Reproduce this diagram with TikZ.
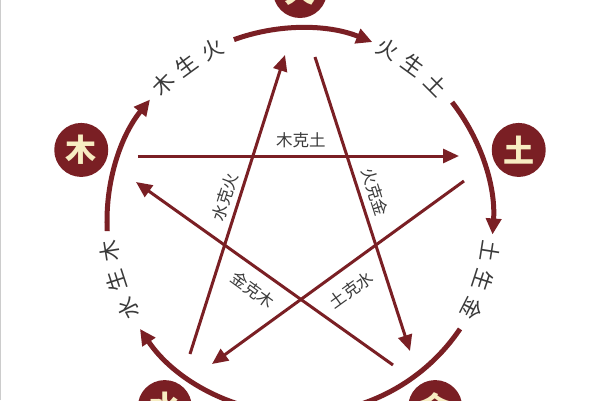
\documentclass[tikz,border=0pt]{standalone}
\usepackage{fontspec}
\newfontfamily\cjk{Noto Sans CJK SC}
\usetikzlibrary{arrows.meta}
\definecolor{maroon}{HTML}{7A1F24}
\definecolor{cream}{HTML}{F7EDC2}
\definecolor{txt}{HTML}{3A3A3A}
\begin{document}
\begin{tikzpicture}[x=1pt,y=1pt,
  elem/.style={circle,fill=maroon,minimum size=54pt,inner sep=0pt,text=cream,font=\cjk\bfseries\fontsize{31}{31}\selectfont},
  ring/.style={maroon,line width=5pt},
  ringarrow/.style={ring,-{Triangle[length=16pt,width=15pt]}},
  ke/.style={maroon,line width=3pt,-{Triangle[length=16pt,width=14pt]}},
  kelabel/.style={text=txt,font=\cjk\fontsize{16.5}{16.5}\selectfont,inner sep=0pt},
  rlabel/.style={text=txt,font=\cjk\fontsize{21.5}{21.5}\selectfont,inner sep=0pt}]
\useasboundingbox (-300,-179) rectangle (300,221);
\clip (-300,-179) rectangle (300,221);
\fill[white] (-300,-179) rectangle (300,221);
\draw[gray!40,line width=1.2pt] (-299.4,-179) -- (-299.4,221);
% elements
\node[elem] (huo) at (90:230) {火};
\node[elem] (mu)  at (162:230) {木};
\node[elem] (tu)  at (18:230) {土};
\node[elem] (jin) at (-54:230) {金};
\node[elem] (shui) at (-126:230) {水};
% ring arcs (sheng)
\draw[ringarrow] (183:193) arc[start angle=183,end angle=141,radius=193];
\draw[ringarrow] (110:193) arc[start angle=110,end angle=68,radius=193];
\draw[ringarrow] (38:193) arc[start angle=38,end angle=-4,radius=193];
\draw[ringarrow] (-34:193) arc[start angle=-34,end angle=-146,radius=193];
% ring labels
\foreach \a/\c [count=\i] in {135/木,126/生,117/火,63/火,54/生,45/土,-9/土,-18/生,-27/金,207/水,198/生,189/木}
  \node[rlabel,rotate=\a-90] (rl\i) at (\a:193) {\c};
% ke lines
\coordinate (s1) at (-110,-133); \coordinate (e1) at (-15,166);
\coordinate (s2) at (15,164);    \coordinate (e2) at (110,-130);
\coordinate (s3) at (93,-144);   \coordinate (e3) at (-164,39);
\coordinate (s4) at (164,40);    \coordinate (e4) at (-88,-143);
\coordinate (s5) at (-162,65);   \coordinate (e5) at (159,65);
\draw[ke] (s1) -- (e1);
\draw[ke] (s2) -- (e2);
\draw[ke] (s3) -- (e3);
\draw[ke] (s4) -- (e4);
\draw[ke] (s5) -- (e5);
% ke labels
\node[kelabel] (k1) at (1,81) {木克土};
\node[kelabel,rotate=72.4] (k2) at (-75,24) {水克火};
\node[kelabel,rotate=-72.4] (k3) at (75,29) {火克金};
\node[kelabel,rotate=-36] (k4) at (-47,-69) {金克木};
\node[kelabel,rotate=36] (k5) at (51,-69) {土克水};
\end{tikzpicture}
\end{document}
